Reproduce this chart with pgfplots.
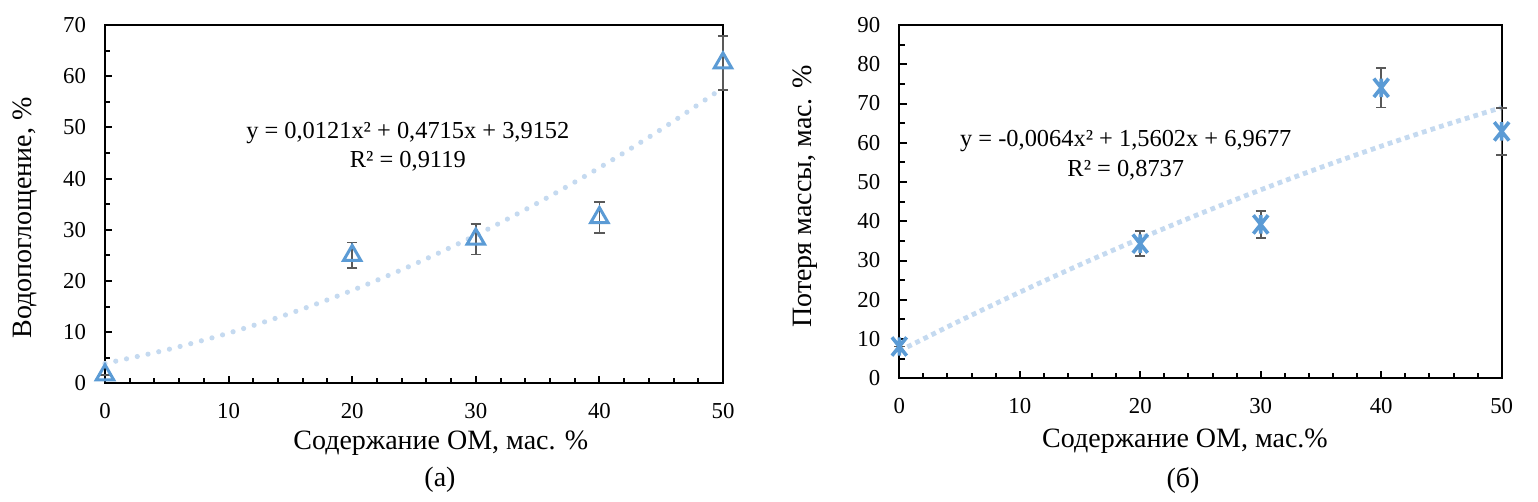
\documentclass[border=0pt]{standalone}
\usepackage{fontspec}
\setmainfont{Liberation Serif}
\usepackage{pgfplots}
\pgfplotsset{compat=1.18}
\definecolor{mk}{HTML}{5B9BD5}
\definecolor{tr}{HTML}{C5DAF0}
\definecolor{eb}{HTML}{595959}
\pgfdeclareplotmark{xstar}{%
  \pgfpathmoveto{\pgfqpoint{-0.8\pgfplotmarksize}{-\pgfplotmarksize}}%
  \pgfpathlineto{\pgfqpoint{0.8\pgfplotmarksize}{\pgfplotmarksize}}%
  \pgfpathmoveto{\pgfqpoint{-0.8\pgfplotmarksize}{\pgfplotmarksize}}%
  \pgfpathlineto{\pgfqpoint{0.8\pgfplotmarksize}{-\pgfplotmarksize}}%
  \pgfpathmoveto{\pgfqpoint{0pt}{-\pgfplotmarksize}}%
  \pgfpathlineto{\pgfqpoint{0pt}{\pgfplotmarksize}}%
  \pgfusepathqstroke}
\begin{document}
\begin{tikzpicture}[x=1pt,y=1pt]
\useasboundingbox (0,0) rectangle (769,251);
\pgfplotsset{common/.style={
  scale only axis, clip=false,
  axis line style={line width=1pt, black},
  tick align=inside, tick pos=left,
  major tick length=3.6pt, minor tick length=2.6pt,
  every tick/.style={black, line width=1pt},
  ticklabel style={font=\fontsize{11.4}{13}\selectfont},
  /pgf/number format/assume math mode=true,
  xmin=0, xmax=50, xtick={0,10,...,50}, minor x tick num=4,
  minor y tick num=1,
  xticklabel style={yshift=-6.5pt},
  yticklabel style={xshift=-6pt},
}}
% ---------- (a)
\begin{axis}[common, at={(52.5pt,59.25pt)}, width=309pt, height=179.25pt,
  ymin=0, ymax=70, ytick={0,10,...,70}]
\addplot[tr, line width=2.6pt, line cap=round, dash pattern=on 0pt off 5.5pt, smooth] coordinates {
(0,3.915) (5,6.575) (10,9.840) (15,13.710) (20,18.185) (25,23.265) (30,28.950) (35,35.240) (40,42.135) (45,49.635) (50,57.740)};
\addplot[only marks, mark=triangle, mark size=5pt, mk, line width=1.5pt,
  error bars/.cd, y dir=both, y explicit,
  error bar style={eb, line width=0.8pt},
  error mark options={rotate=90, mark size=2.6pt, eb, line width=0.8pt}]
coordinates {(0,1.7) +- (0,0) (20,25.0) +- (0,2.5) (30,28.2) +- (0,3.0) (40,32.4) +- (0,3.0) (50,62.6) +- (0,5.3)};
\node[font=\fontsize{12.2}{14.5}\selectfont, align=center] at (axis cs:24.5,46.3) {y = 0,0121x² + 0,4715x + 3,9152\\R² = 0,9119};
\end{axis}
% ---------- (б)
\begin{axis}[common, at={(449.65pt,61.85pt)}, width=301.2pt, height=176.65pt,
  ymin=0, ymax=90, ytick={0,10,...,90}]
\addplot[tr, line width=2.4pt, line cap=butt, dash pattern=on 2.4pt off 2.1pt, smooth] coordinates {
(0,6.968) (5,14.609) (10,21.930) (15,28.931) (20,35.612) (25,41.973) (30,48.014) (35,53.735) (40,59.136) (45,64.217) (50,68.978)};
\addplot[only marks, mark=xstar, mark size=4.6pt, mk, line width=1.8pt,
  error bars/.cd, y dir=both, y explicit,
  error bar style={eb, line width=0.8pt},
  error mark options={rotate=90, mark size=2.6pt, eb, line width=0.8pt}]
coordinates {(0,8.1) +- (0,0) (20,34.3) +- (0,3.2) (30,39.2) +- (0,3.4) (40,74.0) +- (0,5.0) (50,62.9) +- (0,6.0)};
\node[font=\fontsize{12.2}{15}\selectfont, align=center] at (axis cs:18.8,56.9) {y = -0,0064x² + 1,5602x + 6,9677\\R² = 0,8737};
\end{axis}
% ---------- labels
\node[font=\fontsize{14}{16}\selectfont] at (220.4pt,29.5pt) {Содержание ОМ, мас. \%};
\node[font=\fontsize{14}{16}\selectfont] at (592.5pt,30.5pt) {Содержание ОМ, мас.\%};
\node[font=\fontsize{14}{16}\selectfont, rotate=90] at (12.5pt,142pt) {Водопоглощение, \%};
\node[font=\fontsize{14}{16}\selectfont, rotate=90] at (402.5pt,152.75pt) {Потеря массы, мас. \%};
\node[font=\fontsize{14}{16}\selectfont] at (220pt,11pt) {(a)};
\node[font=\fontsize{14}{16}\selectfont] at (591.5pt,11pt) {(б)};
\end{tikzpicture}
\end{document}
